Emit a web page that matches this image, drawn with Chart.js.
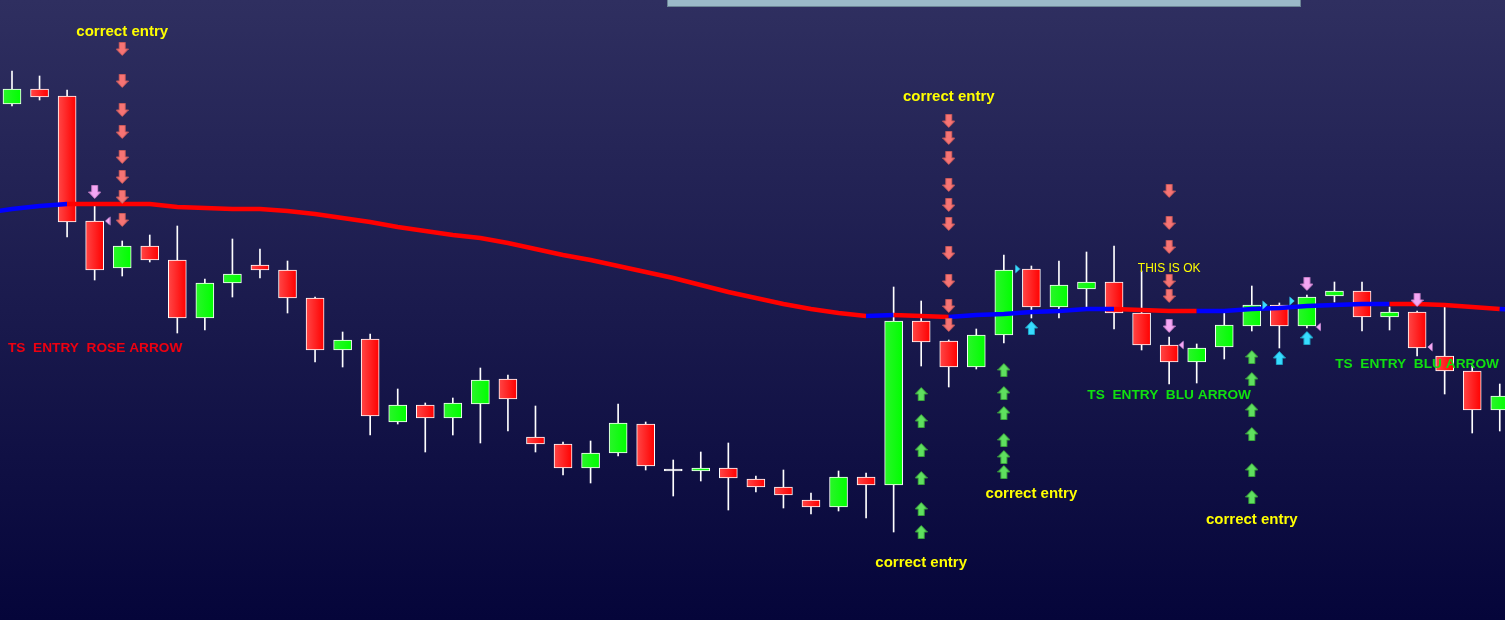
<!DOCTYPE html>
<html>
<head>
<meta charset="utf-8">
<script src="https://cdn.jsdelivr.net/npm/chart.js@4.4.1/dist/chart.umd.min.js"></script>
<style>
  html, body { margin: 0; padding: 0; overflow: hidden; }
  body { width: 1505px; height: 620px; position: relative; background: linear-gradient(#2f2f60, #05053a); }
  canvas { position: absolute; left: 0; top: 0; }
  #panel { position: absolute; left: 667px; top: 0; width: 632px; height: 6px; background: #9bb9c8; border: 1px solid #6b8595; border-top: none; }
</style>
</head>
<body>
<canvas id="chart" width="1505" height="620"></canvas>
<div id="panel"></div>
<script>
// prices in pips above the window's base
const open  = [516, 531, 524, 399, 352, 374, 360, 302, 337, 355, 350, 322, 270, 281, 198, 215, 202, 216, 241, 183,
               176, 152, 167, 196, 149, 149, 152, 141, 133, 120, 113, 143, 135, 299, 279, 253, 285, 351, 313, 331,
               338, 307, 275, 258, 273, 294, 315, 294, 324, 329, 303, 308, 264, 249, 210];
const high  = [549, 544, 530, 414, 379, 385, 394, 341, 381, 371, 359, 323, 288, 286, 231, 217, 222, 252, 245, 214,
               178, 179, 216, 198, 160, 168, 177, 144, 150, 127, 149, 147, 333, 319, 280, 291, 365, 354, 359, 368,
               374, 349, 283, 276, 308, 334, 317, 325, 338, 338, 313, 309, 313, 254, 236];
const low   = [514, 520, 383, 340, 344, 358, 287, 290, 323, 342, 307, 258, 253, 185, 196, 168, 185, 177, 189, 168,
               145, 137, 164, 150, 124, 139, 110, 128, 112, 106, 109, 102,  88, 254, 233, 251, 277, 302, 302, 310,
               291, 270, 236, 237, 261, 289, 272, 292, 318, 289, 290, 264, 226, 187, 189];
const close = [531, 523, 398, 350, 374, 360, 302, 337, 346, 350, 322, 270, 280, 204, 215, 202, 217, 240, 221, 176,
               152, 167, 197, 154, 149, 152, 142, 133, 125, 113, 143, 135, 299, 278, 253, 285, 350, 313, 335, 338,
               307, 275, 258, 272, 295, 315, 294, 323, 329, 303, 308, 272, 249, 210, 224];

// moving average, bar -1 .. 55
const maValues = [407, 411, 414, 416, 416, 416, 416, 413, 412, 411, 411, 409, 406, 402, 398, 393, 389, 385, 382, 377,
                  371, 365, 360, 354, 348, 342, 335, 328, 322, 316, 311, 307, 304, 305, 304, 303, 305, 306, 308, 309,
                  311, 311, 310, 309, 309, 309, 311, 312, 314, 315, 316, 316, 316, 315, 313, 311, 310];
// stretches where the average is rising (from bar, to bar)
const maRising = [[-1, 2], [31, 32], [34, 40], [43, 50], [54, 55]];

// signal arrows
const roseBars = [4, 34, 42];
const roseLevels = [
  [571, 539, 510, 488, 463, 443, 423, 400],
  [499, 482, 462, 435, 415, 396, 367, 339, 314, 295],
  [429, 397, 373, 339, 324]
];
const greenBars = [33, 36, 45];
const greenLevels = [
  [226, 199, 170, 142, 111, 88],
  [250, 227, 207, 180, 163, 148],
  [263, 241, 210, 186, 150, 123]
];
const pinkDownBars = [3, 42, 47, 51];
const pinkDownLevels = [428, 294, 336, 320];
const cyanUpBars = [37, 46, 47];
const cyanUpLevels = [292, 262, 282];
const pinkMarkBars = [3.47, 42.44, 47.42, 51.47];
const pinkMarkLevels = [399, 275, 293, 273];
const cyanMarkBars = [36.5, 45.48, 46.46];
const cyanMarkLevels = [351, 315, 319];

const notes = [
  { text: 'correct entry', bar: 4, level: 588, kind: 'note' },
  { text: 'correct entry', bar: 34, level: 523, kind: 'note' },
  { text: 'correct entry', bar: 33, level: 57, kind: 'note' },
  { text: 'correct entry', bar: 37, level: 126, kind: 'note' },
  { text: 'correct entry', bar: 45, level: 100, kind: 'note' },
  { text: 'THIS IS OK', bar: 42, level: 351, kind: 'small' },
  { text: 'TS  ENTRY  ROSE ARROW', bar: -0.145, level: 272, kind: 'rose' },
  { text: 'TS  ENTRY  BLU ARROW', bar: 42, level: 225, kind: 'blu' },
  { text: 'TS  ENTRY  BLU ARROW', bar: 51, level: 256, kind: 'blu' }
];

const bars = open.map((_, i) => i);

function arrowImg(fill, edge, up, w = 13, h = 14) {
  const c = document.createElement('canvas');
  c.width = w; c.height = h;
  const g = c.getContext('2d');
  const m = w / 2;
  const pts = [[m - 3, 0.5], [m + 3, 0.5], [m + 3, 7], [w - 0.5, 7], [m, h - 0.5], [0.5, 7], [m - 3, 7]];
  g.beginPath();
  pts.forEach(([px, py], k) => {
    const yy = up ? h - py : py;
    k ? g.lineTo(px, yy) : g.moveTo(px, yy);
  });
  g.closePath();
  g.fillStyle = fill;
  g.fill();
  g.strokeStyle = edge;
  g.lineWidth = 1;
  g.stroke();
  return c;
}

function markImg(fill, left) {
  const c = document.createElement('canvas');
  c.width = 6; c.height = 10;
  const g = c.getContext('2d');
  g.beginPath();
  if (left) { g.moveTo(5.5, 0.5); g.lineTo(0.5, 5); g.lineTo(5.5, 9.5); }
  else { g.moveTo(0.5, 0.5); g.lineTo(5.5, 5); g.lineTo(0.5, 9.5); }
  g.closePath();
  g.fillStyle = fill;
  g.fill();
  return c;
}

const roseArrow = arrowImg('#f77474', '#c85a5a', false);
const greenArrow = arrowImg('#5fe05f', '#3aa53a', true);
const pinkArrow = arrowImg('#f4a6f4', '#c77fc7', false);
const cyanArrow = arrowImg('#37dcff', '#1ea6c8', true);
const pinkMark = markImg('#f4a6f4', true);
const cyanMark = markImg('#37dcff', false);

function bodyFill(c) {
  if (c.type !== 'data') return '#ff0000';
  const i = c.dataIndex;
  const up = close[i] > open[i];
  if (open[i] === close[i]) return '#ffffff';
  const px = c.chart.scales.x ? c.chart.scales.x.getPixelForValue(i) : NaN;
  if (!isFinite(px)) return up ? '#00ff00' : '#ff0000';
  const g = c.chart.ctx.createLinearGradient(px - 9, 0, px + 9, 0);
  if (up) {
    g.addColorStop(0, '#2af52a');
    g.addColorStop(1, '#00ff00');
  } else {
    g.addColorStop(0, '#ff4646');
    g.addColorStop(1, '#ff0000');
  }
  return g;
}

const isRising = (bar) => maRising.some(([a, b]) => bar >= a && bar < b);

function pointSet(barsList, levels, img) {
  return {
    type: 'line',
    showLine: false,
    data: barsList.map((b, k) => ({ x: b, y: levels[k] })),
    pointStyle: img,
    pointRadius: 6,
    order: 0
  };
}

const arrowSets = [];
roseBars.forEach((b, k) => arrowSets.push(pointSet(roseLevels[k].map(() => b), roseLevels[k], roseArrow)));
greenBars.forEach((b, k) => arrowSets.push(pointSet(greenLevels[k].map(() => b), greenLevels[k], greenArrow)));
arrowSets.push(pointSet(pinkDownBars, pinkDownLevels, pinkArrow));
arrowSets.push(pointSet(cyanUpBars, cyanUpLevels, cyanArrow));
arrowSets.push(pointSet(pinkMarkBars, pinkMarkLevels, pinkMark));
arrowSets.push(pointSet(cyanMarkBars, cyanMarkLevels, cyanMark));

const noteStyles = {
  note:  { font: 'bold 15px "Liberation Sans", Arial, sans-serif', color: '#ffff00', align: 'center' },
  small: { font: '12px "Liberation Sans", Arial, sans-serif', color: '#ffff00', align: 'center' },
  rose:  { font: 'bold 13.7px "Liberation Sans", Arial, sans-serif', color: '#ee0010', align: 'left' },
  blu:   { font: 'bold 13.7px "Liberation Sans", Arial, sans-serif', color: '#10e010', align: 'center' }
};

const notesPlugin = {
  id: 'notes',
  afterDatasetsDraw(chart) {
    const { ctx, scales: { x, y } } = chart;
    ctx.save();
    ctx.textBaseline = 'middle';
    notes.forEach(n => {
      const s = noteStyles[n.kind];
      ctx.font = s.font;
      ctx.textAlign = s.align;
      ctx.fillStyle = s.color;
      ctx.fillText(n.text, x.getPixelForValue(n.bar), y.getPixelForValue(n.level));
    });
    ctx.restore();
  }
};

new Chart(document.getElementById('chart'), {
  type: 'bar',
  data: {
    datasets: [
      {
        label: 'wick',
        data: bars.map(i => ({ x: i, y: [low[i], high[i]] })),
        backgroundColor: '#ffffff',
        barThickness: 1,
        grouped: false,
        order: 3
      },
      {
        label: 'body',
        data: bars.map(i => ({ x: i, y: [open[i], close[i]] })),
        backgroundColor: bodyFill,
        borderColor: '#ffffff',
        borderWidth: 1,
        borderSkipped: false,
        barThickness: 18,
        minBarLength: 2,
        grouped: false,
        order: 2
      },
      {
        type: 'line',
        label: 'average',
        data: maValues.map((v, k) => ({ x: k - 1, y: v })),
        borderWidth: 4.5,
        pointRadius: 0,
        borderColor: '#ff0000',
        segment: {
          borderColor: s => isRising(s.p0DataIndex - 1) ? '#0000ff' : '#ff0000'
        },
        order: 1
      },
      ...arrowSets
    ]
  },
  options: {
    responsive: false,
    animation: false,
    devicePixelRatio: 1,
    layout: { padding: 0, autoPadding: false },
    plugins: { legend: { display: false }, tooltip: { enabled: false } },
    scales: {
      x: { type: 'linear', min: -0.4356, max: 54.19, display: false, offset: false },
      y: { type: 'linear', min: 0, max: 620, display: false }
    }
  },
  plugins: [notesPlugin]
});
</script>
</body>
</html>
